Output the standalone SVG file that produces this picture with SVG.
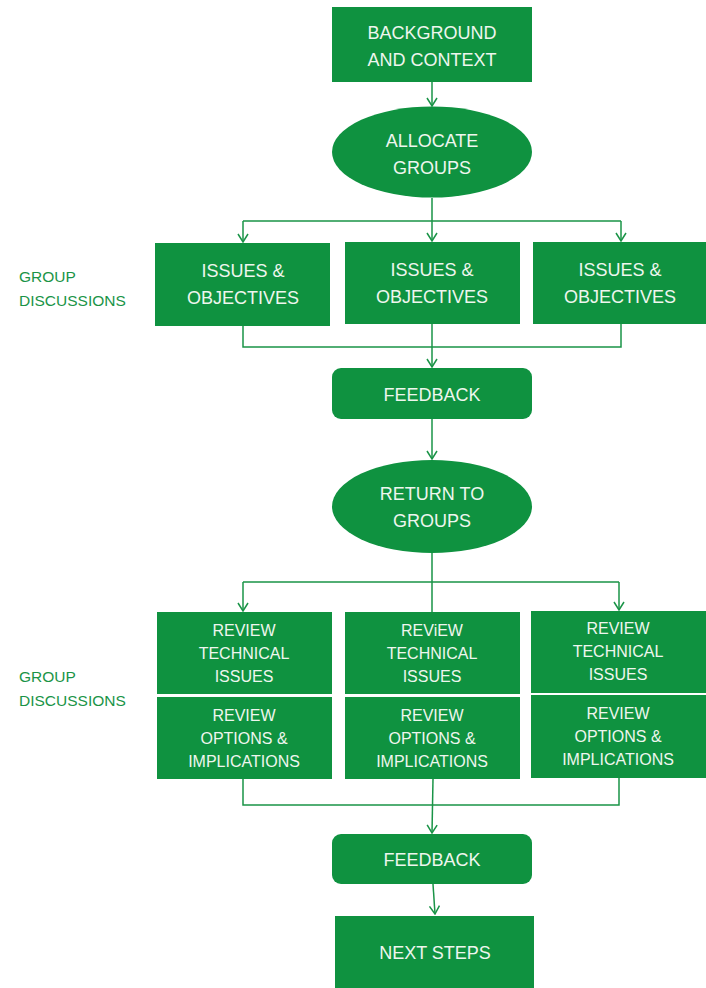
<svg xmlns="http://www.w3.org/2000/svg" width="706" height="988" viewBox="0 0 706 988">
  <style>
    .box { fill: #0F9240; }
    .t { font-family: "Liberation Sans", Arial, sans-serif; fill: #EEF6EE; text-anchor: middle; }
    .big { font-size: 18px; }
    .small { font-size: 16px; }
    .side { font-family: "Liberation Sans", Arial, sans-serif; font-size: 15.5px; fill: #1A9447; }
    .ln { fill: none; stroke: #1A9447; stroke-width: 1.5; }
  </style>
  <defs>
    <!-- open V arrowhead, tip at the end of the line -->
    <marker id="open" viewBox="0 0 10 12" refX="9" refY="6" markerWidth="10" markerHeight="12" markerUnits="userSpaceOnUse" orient="auto">
      <path d="M1 1 L9 6 L1 11" fill="none" stroke="#1A9447" stroke-width="1.5"/>
    </marker>
  </defs>
  <rect width="706" height="988" fill="#FFFFFF"/>

  <!-- side labels -->
  <g id="label-discussions-1">
    <text class="side" x="19" y="282">GROUP</text>
    <text class="side" x="19" y="306">DISCUSSIONS</text>
  </g>
  <g id="label-discussions-2">
    <text class="side" x="19" y="682">GROUP</text>
    <text class="side" x="19" y="706">DISCUSSIONS</text>
  </g>

  <!-- connectors -->
  <g id="connectors">
    <path class="ln" d="M432 82 V106" marker-end="url(#open)"/>
    <path class="ln" d="M432 198 V221 M243 221 H621"/>
    <path class="ln" d="M243 221 V242" marker-end="url(#open)"/>
    <path class="ln" d="M432 221 V241" marker-end="url(#open)"/>
    <path class="ln" d="M621 221 V241" marker-end="url(#open)"/>
    <path class="ln" d="M243 326 V347 H621 V324"/>
    <path class="ln" d="M432 324 V367" marker-end="url(#open)"/>
    <path class="ln" d="M432 419 V459" marker-end="url(#open)"/>
    <path class="ln" d="M432 553 V612 M243 582 H619"/>
    <path class="ln" d="M243 582 V611" marker-end="url(#open)"/>
    <path class="ln" d="M619 582 V610" marker-end="url(#open)"/>
    <path class="ln" d="M243 779 V805 H619 V778"/>
    <path class="ln" d="M433 779 L432 833" stroke-width="2" marker-end="url(#open)"/>
    <path class="ln" d="M433 884 L435 914" marker-end="url(#open)"/>
  </g>

  <g id="background">
    <rect class="box" x="332" y="7" width="200" height="75"/>
    <text class="t big" x="432" y="39">BACKGROUND</text>
    <text class="t big" x="432" y="66">AND CONTEXT</text>
  </g>

  <g id="allocate">
    <ellipse class="box" cx="432" cy="152" rx="100" ry="45.5"/>
    <text class="t big" x="432" y="147">ALLOCATE</text>
    <text class="t big" x="432" y="174">GROUPS</text>
  </g>

  <g id="issues-1">
    <rect class="box" x="155" y="243" width="175" height="83"/>
    <text class="t big" x="243" y="277">ISSUES &amp;</text>
    <text class="t big" x="243" y="304">OBJECTIVES</text>
  </g>
  <g id="issues-2">
    <rect class="box" x="345" y="242" width="175" height="82"/>
    <text class="t big" x="432" y="276">ISSUES &amp;</text>
    <text class="t big" x="432" y="303">OBJECTIVES</text>
  </g>
  <g id="issues-3">
    <rect class="box" x="533" y="242" width="173" height="82"/>
    <text class="t big" x="620" y="276">ISSUES &amp;</text>
    <text class="t big" x="620" y="303">OBJECTIVES</text>
  </g>

  <g id="feedback-1">
    <rect class="box" x="332" y="368" width="200" height="51" rx="9"/>
    <text class="t big" x="432" y="401">FEEDBACK</text>
  </g>

  <g id="return">
    <ellipse class="box" cx="432" cy="506.5" rx="100" ry="46.5"/>
    <text class="t big" x="432" y="500">RETURN TO</text>
    <text class="t big" x="432" y="527">GROUPS</text>
  </g>

  <g id="review-tech-1">
    <rect class="box" x="157" y="612" width="175" height="82"/>
    <text class="t small" x="244" y="636">REVIEW</text>
    <text class="t small" x="244" y="659">TECHNICAL</text>
    <text class="t small" x="244" y="682">ISSUES</text>
  </g>
  <g id="review-opt-1">
    <rect class="box" x="157" y="697" width="175" height="82"/>
    <text class="t small" x="244" y="721">REVIEW</text>
    <text class="t small" x="244" y="744">OPTIONS &amp;</text>
    <text class="t small" x="244" y="767">IMPLICATIONS</text>
  </g>
  <g id="review-tech-2">
    <rect class="box" x="345" y="612" width="175" height="82"/>
    <text class="t small" x="432" y="636">REViEW</text>
    <text class="t small" x="432" y="659">TECHNICAL</text>
    <text class="t small" x="432" y="682">ISSUES</text>
  </g>
  <g id="review-opt-2">
    <rect class="box" x="345" y="697" width="175" height="82"/>
    <text class="t small" x="432" y="721">REVIEW</text>
    <text class="t small" x="432" y="744">OPTIONS &amp;</text>
    <text class="t small" x="432" y="767">IMPLICATIONS</text>
  </g>
  <g id="review-tech-3">
    <rect class="box" x="531" y="611" width="175" height="82"/>
    <text class="t small" x="618" y="634">REVIEW</text>
    <text class="t small" x="618" y="657">TECHNICAL</text>
    <text class="t small" x="618" y="680">ISSUES</text>
  </g>
  <g id="review-opt-3">
    <rect class="box" x="531" y="695" width="175" height="83"/>
    <text class="t small" x="618" y="719">REVIEW</text>
    <text class="t small" x="618" y="742">OPTIONS &amp;</text>
    <text class="t small" x="618" y="765">IMPLICATIONS</text>
  </g>

  <g id="feedback-2">
    <rect class="box" x="332" y="834" width="200" height="50" rx="9"/>
    <text class="t big" x="432" y="866">FEEDBACK</text>
  </g>

  <g id="next-steps">
    <rect class="box" x="335" y="916" width="199" height="72"/>
    <text class="t big" x="435" y="959">NEXT STEPS</text>
  </g>
</svg>
